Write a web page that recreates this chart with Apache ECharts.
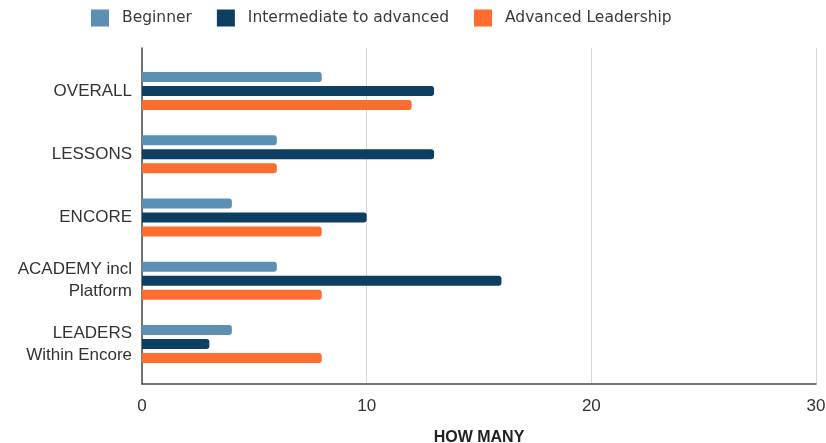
<!DOCTYPE html>
<html>
<head>
<meta charset="utf-8">
<script src="https://cdn.jsdelivr.net/npm/echarts@6/dist/echarts.min.js"></script>
<style>
html,body{margin:0;padding:0;background:#fff;}
#c{width:826px;height:443px;}
</style>
</head>
<body>
<div id="c"></div>
<script>
var categories = ['OVERALL', 'LESSONS', 'ENCORE', 'ACADEMY incl\nPlatform', 'LEADERS\nWithin Encore'];
var seriesNames = ['Beginner', 'Intermediate to advanced', 'Advanced Leadership'];
var beginner = [8, 6, 4, 6, 4];
var intermediate = [13, 13, 10, 16, 3];
var advanced = [12, 6, 8, 8, 8];
var xTicks = [0, 10, 20, 30];
var colors = ['#5b8fb4', '#0c3f61', '#fe6c2f'];

var chart = echarts.init(document.getElementById('c'), null, {renderer: 'canvas'});
var font = 'Liberation Sans, Arial, sans-serif';
var values = [beginner, intermediate, advanced];
var option = {
  backgroundColor: '#fff',
  animation: false,
  color: colors,
  legend: {
    top: 9.5,
    left: 91,
    padding: 0,
    itemWidth: 18,
    itemHeight: 17,
    itemGap: 25,
    icon: 'rect',
    textStyle: {fontFamily: 'DejaVu Sans, sans-serif', fontSize: 15.5, color: '#3a3a3a', padding: [0, 0, 0, 8]},
    data: seriesNames
  },
  grid: [
    {left: 142, right: 10, top: 48, bottom: 59, outerBoundsMode: 'none', containLabel: false},
    {left: 142, right: 10, top: 59.4, bottom: 67.4, outerBoundsMode: 'none', containLabel: false}
  ],
  xAxis: [
    {
      gridIndex: 0, type: 'value', min: xTicks[0], max: xTicks[xTicks.length - 1], interval: 10,
      axisLine: {show: true, lineStyle: {color: '#4a4a4a', width: 1.5}},
      axisTick: {show: false},
      axisLabel: {fontFamily: font, fontSize: 17, color: '#333', margin: 14},
      splitLine: {show: true, lineStyle: {color: '#d6d6d6', width: 1}},
      name: 'HOW MANY', nameLocation: 'middle', nameGap: 46,
      nameTextStyle: {fontFamily: font, fontSize: 16, fontWeight: 'bold', color: '#222'}
    },
    {
      gridIndex: 1, type: 'value', min: xTicks[0], max: xTicks[xTicks.length - 1], show: false
    }
  ],
  yAxis: [
    {
      gridIndex: 0, type: 'category', data: categories, inverse: true,
      axisLine: {show: true, lineStyle: {color: '#4a4a4a', width: 1.5}},
      axisTick: {show: false}, axisLabel: {show: false}, splitLine: {show: false}
    },
    {
      gridIndex: 1, type: 'category', data: categories, inverse: true,
      axisLine: {show: false}, axisTick: {show: false},
      axisLabel: {fontFamily: font, fontSize: 17, color: '#333', margin: 10, lineHeight: 22, align: 'right'}
    }
  ],
  series: seriesNames.map(function (n, i) {
    return {
      name: n, type: 'bar', xAxisIndex: 1, yAxisIndex: 1,
      data: values[i], barWidth: 10, barGap: '40%',
      itemStyle: {color: colors[i], borderRadius: [0, 3, 3, 0]}
    };
  })
};
chart.setOption(option);
</script>
</body>
</html>
